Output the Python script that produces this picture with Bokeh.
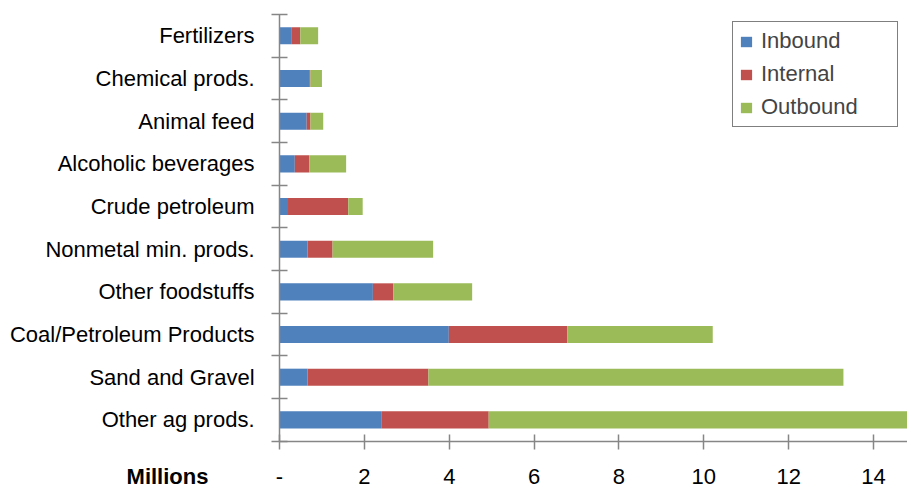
from bokeh.plotting import figure
from bokeh.models import ColumnDataSource, FixedTicker, Range1d, LinearAxis, Label
from bokeh.embed import file_html
from bokeh.resources import INLINE

# Data (millions), bottom-to-top order
categories = ["Other ag prods.", "Sand and Gravel", "Coal/Petroleum Products",
              "Other foodstuffs", "Nonmetal min. prods.", "Crude petroleum",
              "Alcoholic beverages", "Animal feed", "Chemical prods.", "Fertilizers"]
inbound = [2.41, 0.66, 3.99, 2.20, 0.66, 0.20, 0.36, 0.64, 0.70, 0.29]
internal = [2.52, 2.85, 2.79, 0.48, 0.59, 1.42, 0.34, 0.09, 0.03, 0.20]
outbound = [10.50, 9.78, 3.43, 1.86, 2.37, 0.34, 0.87, 0.30, 0.27, 0.42]
series = ["Inbound", "Internal", "Outbound"]
x_ticks = [0, 2, 4, 6, 8, 10, 12, 14]
unit_label = "Millions"

FONT = "Liberation Sans"
FS = "22px"
colors = ["#4F81BD", "#C0504D", "#9BBB59"]
axis_col = "#868686"

ypos = [i + 0.5 for i in range(len(categories))]
src = ColumnDataSource(dict(y=ypos, Inbound=inbound, Internal=internal, Outbound=outbound))

X_END = 14.8
p = figure(width=907, height=490, output_backend="svg", toolbar_location=None,
           x_range=Range1d(-6.576, X_END), y_range=Range1d(-1.155, 10.328),
           x_axis_type=None, y_axis_type=None,
           min_border_left=0, min_border_right=0, min_border_top=0, min_border_bottom=0)
p.outline_line_color = None
p.grid.visible = False

p.hbar_stack(series, y="y", height=0.4, color=colors, source=src,
             legend_label=series, line_color=None)

# y axis (category axis drawn at x = 0)
ya = LinearAxis(fixed_location=0, bounds=(0, len(categories)))
ya.ticker = FixedTicker(ticks=ypos, minor_ticks=list(range(0, len(categories) + 1)))
overrides = {}
for yv, c in zip(ypos, categories):
    overrides[yv] = c
    overrides[str(yv)] = c
ya.major_label_overrides = overrides
ya.major_tick_in = 0
ya.major_tick_out = 0
ya.minor_tick_in = 8
ya.minor_tick_out = 8
ya.minor_tick_line_color = axis_col
ya.minor_tick_line_width = 1.5
ya.axis_line_color = axis_col
ya.axis_line_width = 1.5
ya.major_label_standoff = 17
ya.major_label_text_font = FONT
ya.major_label_text_font_size = FS
ya.major_label_text_color = "black"
p.add_layout(ya, "left")

# x axis (value axis drawn at y = 0)
xa = LinearAxis(fixed_location=0, bounds=(0, X_END))
xa.ticker = FixedTicker(ticks=x_ticks, minor_ticks=[])
xa.major_label_overrides = {0: "-", "0": "-"}
xa.major_tick_in = 7
xa.major_tick_out = 8
xa.major_tick_line_color = axis_col
xa.major_tick_line_width = 1.5
xa.axis_line_color = axis_col
xa.axis_line_width = 1.5
xa.major_label_standoff = 20
xa.major_label_text_font = FONT
xa.major_label_text_font_size = FS
xa.major_label_text_color = "black"
p.add_layout(xa, "below")

p.add_layout(Label(x=-2.64, y=-0.83, text=unit_label, text_align="center",
                   text_baseline="middle", text_font=FONT, text_font_size="22px",
                   text_font_style="bold", text_color="black"))

lg = p.legend[0]
lg.location = (732, 363)
lg.margin = 0
lg.padding = 6
lg.spacing = 7
lg.label_height = 20
lg.glyph_width = 14
lg.glyph_height = 13
lg.label_standoff = 8
lg.label_width = 130
lg.border_line_color = "black"
lg.border_line_width = 1
lg.label_text_font = FONT
lg.label_text_font_size = FS
lg.background_fill_alpha = 1

open("out.html", "w").write(file_html(p, INLINE))
